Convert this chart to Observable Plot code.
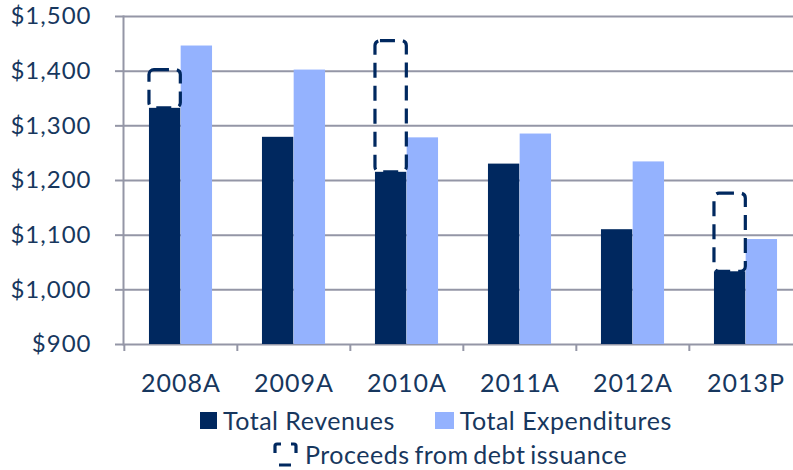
<!DOCTYPE html>
<html>
<head>
<meta charset="utf-8">
<script src="https://cdn.jsdelivr.net/npm/d3@7"></script>
<script src="https://cdn.jsdelivr.net/npm/@observablehq/plot@0.6"></script>
<style>
  html, body { margin: 0; padding: 0; background: #fff; overflow: hidden; }
  #wrap { position: relative; width: 793px; height: 470px; font-family: Lato, sans-serif; color: #17375e; }
  #chart { position: absolute; left: 0; top: 0; }
  .row { position: absolute; display: flex; align-items: center; font-size: 25px; letter-spacing: 0.5px; white-space: nowrap; line-height: 1; }
  .sw { display: inline-block; height: 17px; margin-right: 6px; }
</style>
</head>
<body>
<div id="wrap">
  <div id="chart"></div>
  <div class="row" id="row1" style="left:200px; top:408px;">
    <span class="sw" style="width:17px; background:#00285f;"></span><span>Total Revenues</span>
    <span class="sw" style="width:19px; background:#94b2fe; margin-left:40px;"></span><span>Total Expenditures</span>
  </div>
  <div class="row" id="row2" style="left:272px; top:442px;">
    <svg width="27" height="25" style="margin-right:6px;">
      <path d="M3,11 V4 Q3,2 5,2 H9 M19,2 H22 Q24,2 24,4 V11 M7,23 H19" fill="none" stroke="#00285f" stroke-width="3.2"/>
    </svg>
    <span style="word-spacing:-2px;">Proceeds from debt issuance</span>
  </div>
</div>
<script>
const categories = ["2008A", "2009A", "2010A", "2011A", "2012A", "2013P"];
const revenues = [1332, 1279, 1215, 1230, 1110, 1033];
const expenditures = [1446, 1402, 1278, 1285, 1234, 1092];
const debtProceeds = [70, 0, 240, 0, 0, 143];
const yTicks = [900, 1000, 1100, 1200, 1300, 1400, 1500];

const navy = "#00285f";
const light = "#94b2fe";
const textColor = "#17375e";
const gridColor = "#9496a6";

const width = 793, marginLeft = 123, marginRight = -10;
const step = (width - marginLeft - marginRight) / categories.length;
const barW = 31.7;
const pad = (step - 2 * barW) / 2;

const rows = categories.map((c, i) => ({
  category: c,
  revenue: revenues[i],
  expenditure: expenditures[i],
  debt: debtProceeds[i]
}));
const debtRows = rows.filter(d => d.debt > 0);
const base = yTicks[0];

const plot = Plot.plot({
  width,
  height: 400,
  marginLeft,
  marginRight,
  marginTop: 16,
  marginBottom: 56,
  style: { fontFamily: "Lato, sans-serif", background: "transparent", overflow: "visible", letterSpacing: "1px" },
  x: { type: "band", domain: categories, padding: 0, axis: null },
  y: { domain: [yTicks[0], yTicks[yTicks.length - 1]], axis: null },
  marks: [
    Plot.gridY(yTicks, { stroke: gridColor, strokeOpacity: 1, strokeWidth: 2 }),
    Plot.axisY(yTicks, {
      anchor: "left",
      tickSize: 8,
      tickPadding: 24,
      tickFormat: d => "$" + d3.format(",")(d),
      fontSize: 24,
      fill: textColor,
      stroke: gridColor,
      strokeWidth: 2,
      label: null
    }),
    Plot.frame({ anchor: "left", stroke: gridColor, strokeWidth: 2 }),
    Plot.axisX({
      tickSize: 7,
      tickFormat: () => "",
      stroke: gridColor,
      strokeWidth: 2,
      dx: -step / 2,
      label: null
    }),
    Plot.axisX({
      tickSize: 0,
      tickPadding: 30,
      fontSize: 25,
      fill: textColor,
      label: null
    }),
    Plot.barY(rows, {
      x: "category", y1: base, y2: "revenue", fill: navy,
      insetLeft: pad, insetRight: step - pad - barW
    }),
    Plot.barY(rows, {
      x: "category", y1: base, y2: "expenditure", fill: light,
      insetLeft: pad + barW, insetRight: pad
    }),
    Plot.barY(debtRows, {
      x: "category", y1: "revenue", y2: d => d.revenue + d.debt,
      fill: "none", stroke: navy, strokeWidth: 3.2, strokeDasharray: "15,8",
      rx: 5, insetLeft: pad, insetRight: step - pad - barW
    })
  ]
});
document.getElementById("chart").appendChild(plot);
</script>
</body>
</html>
